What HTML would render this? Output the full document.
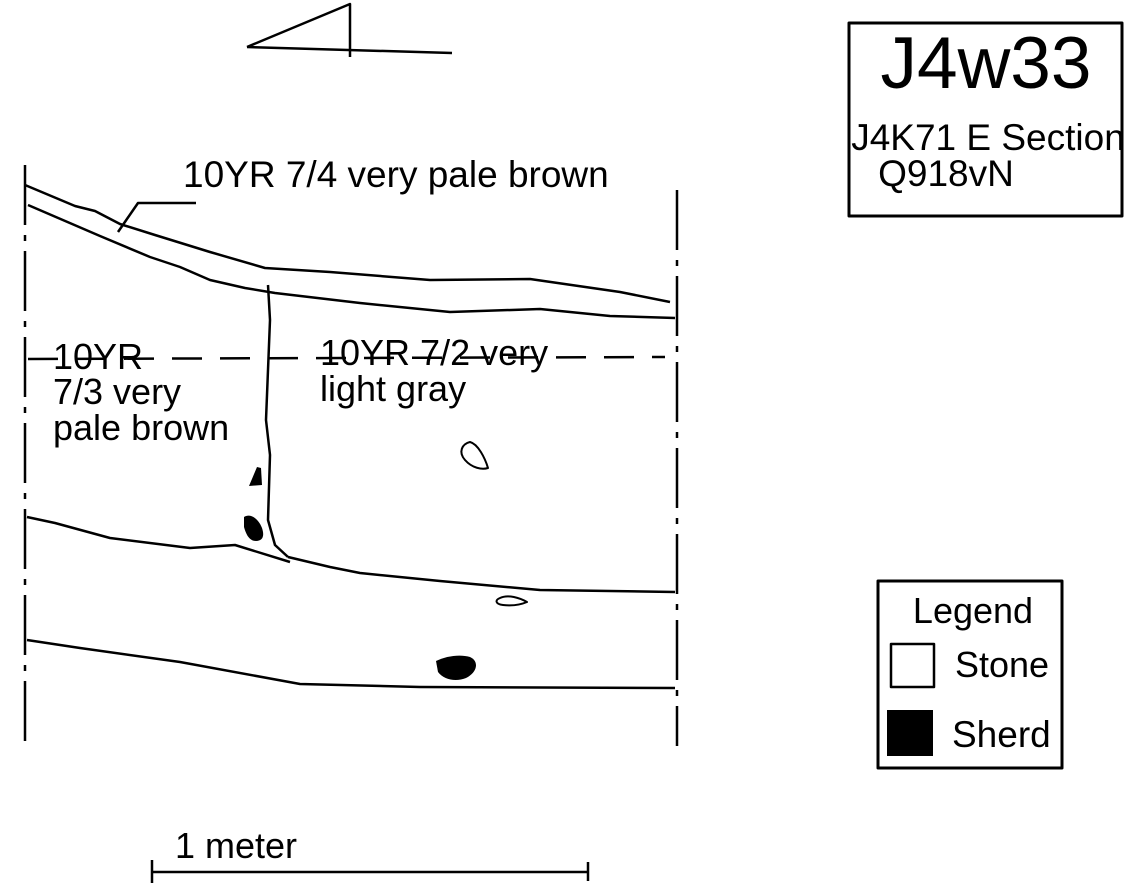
<!DOCTYPE html>
<html><head><meta charset="utf-8"><style>
html,body{margin:0;padding:0;background:#fff;}
svg{display:block;}
text{font-family:"Liberation Sans",sans-serif;fill:#000;}
</style></head><body>
<svg width="1133" height="884" viewBox="0 0 1133 884" xmlns="http://www.w3.org/2000/svg">
<g fill="none" stroke="#000" stroke-width="2.5" stroke-linejoin="round">
<polyline points="247,47 350,4 350,57"/>
<line x1="247" y1="47" x2="452" y2="53"/>
<line x1="25" y1="165" x2="25" y2="742" stroke-dasharray="60,10,6,10"/>
<line x1="677" y1="190" x2="677" y2="746" stroke-dasharray="60,10,6,10"/>
<polyline points="25,185 75,206 95,211 120,224 155,235 210,252 265,268 330,272 430,280 530,279 620,292 670,302"/>
<polyline points="28,205 100,236 150,257 180,267 210,280 245,288 275,293 360,303 450,312 540,309 610,316 675,318"/>
<polyline points="118,232 138,203 196,203"/>
<polyline points="268,285 270,320 266,420 270,455 268,520 275,545 288,557"/>
<polyline points="27,517 55,523 110,538 190,548 235,545 290,562"/>
<polyline points="288,557 330,567 360,573 440,581 540,590 675,592"/>
<polyline points="27,640 80,648 180,662 300,684 420,687 675,688"/>
<line x1="28" y1="359" x2="665" y2="357" stroke-dasharray="30,18"/>
<path d="M470,442 C462,444 458,452 465,460 C472,468 482,470 488,468 C485,458 478,444 470,442 Z" stroke-width="2"/>
<path d="M500,598 C495,600 495,604 503,605 C512,606 520,605 527,602 C520,598 508,594 500,598 Z" stroke-width="2"/>
<rect x="849" y="23" width="273" height="193" stroke-width="3"/>
<rect x="878" y="581" width="184" height="187" stroke-width="3"/>
<rect x="891" y="644" width="43" height="43" stroke-width="2.5"/>
<line x1="152" y1="872" x2="588" y2="872"/>
<line x1="152" y1="860" x2="152" y2="883"/>
<line x1="588" y1="862" x2="588" y2="881"/>
</g>
<g fill="#000">
<polygon points="257,467 261,468 262,485 249,486"/>
<path d="M244,517 C250,513 258,518 262,528 C265,537 262,541 256,541 C249,541 246,534 244,527 Z"/>
<path d="M436,661 C446,656 460,654 470,657 C479,661 478,672 466,678 C456,682 444,680 438,672 Z"/>
<rect x="887" y="710" width="46" height="46"/>
</g>
<text x="183" y="187" font-size="37">10YR 7/4 very pale brown</text>
<text x="53" y="369" font-size="36">10YR</text>
<text x="53" y="404" font-size="36">7/3 very</text>
<text x="53" y="440" font-size="36">pale brown</text>
<text x="320" y="365" font-size="36">10YR 7/2 very</text>
<text x="320" y="401" font-size="36">light gray</text>
<text x="986" y="88" font-size="73" text-anchor="middle">J4w33</text>
<text x="988" y="150" font-size="37" text-anchor="middle">J4K71 E Section</text>
<text x="946" y="186" font-size="37" text-anchor="middle">Q918vN</text>
<text x="973" y="623" font-size="36" text-anchor="middle">Legend</text>
<text x="955" y="677" font-size="36">Stone</text>
<text x="952" y="747" font-size="37">Sherd</text>
<text x="175" y="858" font-size="36">1 meter</text>
</svg>
</body></html>
